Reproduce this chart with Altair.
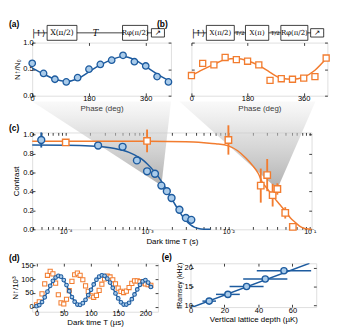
import altair as alt
import pandas as pd

FONT = "Liberation Sans"
SERIF = "DejaVu Serif"
BLUE = "#1d5b9f"
BLUE_FILL = "#a9cbea"
ORANGE = "#f27c2f"
TK = 3

# ---------------- data ----------------
# (a) and (b): phase scans
phase = [0, 36, 72, 108, 144, 180, 216, 252, 288, 324, 360, 396, 432]
a_ratio = [0.61, 0.42, 0.31, 0.26, 0.34, 0.50, 0.59, 0.67, 0.76, 0.64, 0.56, 0.36, 0.26]
a_fit_phase = [0, 36, 72, 108, 144, 180, 216, 252, 288, 324, 360, 396, 432, 440]
a_fit = [0.52, 0.41, 0.31, 0.27, 0.32, 0.45, 0.58, 0.68, 0.74, 0.68, 0.55, 0.41, 0.29, 0.27]
b_ratio = [0.38, 0.61, 0.58, 0.72, 0.68, 0.65, 0.58, 0.29, 0.32, 0.31, 0.33, 0.36, 0.71]
b_fit = [0.38, 0.49, 0.59, 0.68, 0.70, 0.66, 0.57, 0.44, 0.33, 0.31, 0.35, 0.48, 0.70]

# (c): contrast vs dark time
blue_T = [5e-5, 2.5e-4, 5e-4, 7.5e-4, 1e-3, 1.25e-3, 1.5e-3, 1.75e-3, 2e-3, 2.5e-3, 3e-3, 3.5e-3]
blue_C = [0.944, 0.885, 0.872, 0.728, 0.613, 0.587, 0.462, 0.403, 0.331, 0.207, 0.121, 0.10]
blue_err = [0.08, 0.025, 0.03, 0.02, 0.02, 0.02, 0.02, 0.02, 0.02, 0.02, 0.02, 0.02]
blue_fit_T = [3.87e-5, 1e-4, 2e-4, 3e-4, 4e-4, 5e-4, 6e-4, 7e-4, 8e-4, 9e-4, 1e-3, 1.2e-3,
              1.4e-3, 1.6e-3, 1.8e-3, 2e-3, 2.2e-3, 2.4e-3, 2.7e-3, 3e-3, 3.4e-3, 3.8e-3,
              4.3e-3, 5e-3, 6e-3]
blue_fit_C = [0.89, 0.888, 0.881, 0.87, 0.855, 0.836, 0.813, 0.787, 0.759, 0.728, 0.693, 0.62,
              0.546, 0.469, 0.396, 0.327, 0.265, 0.211, 0.144, 0.094, 0.05, 0.024,
              0.009, 0.002, 0.0]
orange_T = [1e-4, 1e-3, 1e-2, 2.5e-2, 3e-2, 3.5e-2, 4e-2, 5e-2, 6.2e-2]
orange_C = [0.918, 0.934, 0.944, 0.462, 0.573, 0.361, 0.426, 0.174, 0.026]
orange_err = [0.03, 0.12, 0.155, 0.18, 0.17, 0.12, 0.06, 0.06, 0.03]
orange_fit_T = [3.87e-5, 1e-3, 3e-3, 5e-3, 7e-3, 1e-2, 1.3e-2, 1.65e-2, 2e-2, 2.33e-2, 2.6e-2,
                3e-2, 3.6e-2, 4.2e-2, 5.1e-2, 5.8e-2, 6.6e-2, 7.5e-2, 8.5e-2, 0.1, 0.1054]
orange_fit_C = [0.93, 0.93, 0.925, 0.915, 0.905, 0.882, 0.83, 0.75, 0.67, 0.59, 0.50,
                0.43, 0.34, 0.27, 0.185, 0.12, 0.075, 0.035, 0.012, 0.002, 0.0]

# zoom wedges linking (c) to (a)/(b): panel edges expressed on the (c) axis
wedge_top = 1.35
wedge_a_x = [3.87e-5, 1.97e-3]
wedge_b_x = [2.5e-3, 0.1175]

# (d): atom number vs dark time
d_t = [0, 5, 10, 15, 20, 25, 30, 35, 40, 45, 50, 55, 60, 65, 70, 75, 80, 85, 90, 95, 100,
       105, 110, 115, 120, 125, 130, 135, 140, 145, 150, 155, 160, 165, 170, 175, 180, 185,
       190, 195, 200, 205, 210]
d_blue = [3, 7, 18, 35, 55, 76, 94, 106, 112, 109, 97, 79, 57, 36, 19, 9, 8, 14, 26, 43,
          62, 81, 98, 109, 114, 112, 102, 88, 69, 49, 31, 17, 9, 9, 15, 28, 45, 63, 80, 92,
          97, 88, 72]
d_orange = [8, 19, 47, 83, 114, 128, 119, 86, 44, 15, 11, 28, 59, 92, 116, 122, 114, 98,
            76, 56, 40, 35, 42, 60, 82, 101, 111, 108, 98, 83, 68, 56, 52, 57, 70, 85, 94,
            94, 91, 87, 83, 80, 78]

# (e): Ramsey frequency vs lattice depth
e_depth = [11, 22, 33, 44, 55]
e_freq = [11.1, 12.9, 15.0, 17.0, 19.2]
e_xerr = [4.0, 7.0, 10.0, 13.0, 16.0]
e_fit_depth = [0, 70]
e_fit_freq = [9.3, 21.2]

# ---------------- helpers ----------------
ONE = alt.Data(values=[{}])


def ax(values, title=None, labels=True, orient=None, fmt=None, label_expr=None, tick=TK,
       title_pad=2, label_size=8, label_pad=2, title_size=8.5):
    kw = dict(values=values, domain=False, grid=False, ticks=True,
              tickSize=alt.ExprRef(expr=str(-tick)), tickColor="black", tickWidth=0.8,
              labels=labels, labelFont=FONT, labelFontSize=label_size, labelColor="black",
              labelPadding=label_pad, labelFlush=False, labelOverlap=False,
              titleFont=FONT, titleFontSize=title_size, titleColor="black",
              titleFontWeight="normal", titlePadding=title_pad, minExtent=0)
    kw["title"] = title if title else None
    if orient:
        kw["orient"] = orient
        kw["maxExtent"] = 0
    if fmt:
        kw["format"] = fmt
    if label_expr:
        kw["labelExpr"] = label_expr
    return alt.Axis(**kw)


def txt(s, x, y, size=8, font=FONT, color="black", **kw):
    return alt.Chart(ONE).mark_text(text=s, fontSize=size, font=font, color=color, **kw).encode(
        x=alt.value(x), y=alt.value(y))


def box(x0, x1, y0, y1):
    return alt.Chart(ONE).mark_rect(fill="white", stroke="black", strokeWidth=0.8).encode(
        x=alt.value(x0), x2=alt.value(x1), y=alt.value(y0), y2=alt.value(y1))


def wire(x0, x1, y):
    return alt.Chart(ONE).mark_rule(stroke="black", strokeWidth=0.8).encode(
        x=alt.value(x0), x2=alt.value(x1), y=alt.value(y))


def circles(df, xf, yf, xs, ys, size, sw, xaxis=None, yaxis=None):
    return alt.Chart(df).mark_point(shape="circle", filled=True, fill=BLUE_FILL, stroke=BLUE,
                                    strokeWidth=sw, size=size, opacity=1, fillOpacity=1).encode(
        x=alt.X(xf, scale=xs, axis=xaxis), y=alt.Y(yf, scale=ys, axis=yaxis))


def squares(df, xf, yf, xs, ys, size, sw, xaxis=None, yaxis=None):
    return alt.Chart(df).mark_point(shape="square", filled=True, fill="white", stroke=ORANGE,
                                    strokeWidth=sw, size=size, opacity=1, fillOpacity=1).encode(
        x=alt.X(xf, scale=xs, axis=xaxis), y=alt.Y(yf, scale=ys, axis=yaxis))


def mirror(df, xf, yf, xs, ys, xvals, yvals):
    return alt.Chart(df).mark_point(opacity=0).encode(
        x=alt.X(xf, scale=xs, axis=ax(xvals, labels=False, orient="top")),
        y=alt.Y(yf, scale=ys, axis=ax(yvals, labels=False, orient="right")))


def meter(x0, y0):
    return [box(x0, x0 + 14, y0 - 4.5, y0 + 4.5),
            txt("↗", x0 + 7, y0, size=8, font="DejaVu Sans")]


CY = -10.5  # circuit wire height above plot
LBL_X = -25

# ---------------- panel (a) ----------------
df_a = pd.DataFrame({"phase": phase, "v": a_ratio})
df_afit = pd.DataFrame({"phase": a_fit_phase, "v": a_fit})
xa = alt.Scale(domain=[0, 440], nice=False)
ya = alt.Scale(domain=[0, 1], nice=False)
pa = alt.layer(
    alt.Chart(df_afit).mark_line(color=BLUE, strokeWidth=1.6, interpolate="monotone").encode(
        x=alt.X("phase:Q", scale=xa, axis=None), y=alt.Y("v:Q", scale=ya, axis=None)),
    circles(df_a, "phase:Q", "v:Q", xa, ya, 48, 1.4,
            ax([0, 180, 360], "Phase (deg)"), ax([0, 0.5, 1], "N↑/N₀", fmt=".1f")),
    mirror(df_a, "phase:Q", "v:Q", xa, ya, [0, 180, 360], [0, 0.5, 1]),
    wire(2, 142, CY),
    txt("|↑⟩", 7, CY, size=9, font=SERIF),
    box(16, 48, CY - 8, CY + 8), txt("X(π/2)", 32, CY, size=8, font=SERIF),
    txt("T", 68, CY, size=9, font=SERIF, fontStyle="italic"),
    box(97, 124, CY - 8, CY + 8), txt("Rφ(π/2)", 110.5, CY, size=7.5, font=SERIF),
    *meter(128, CY),
    txt("(a)", LBL_X, -20, size=9, fontWeight="bold", align="left"),
    txt("(b)", 134, -20, size=9, fontWeight="bold", align="left"),
).resolve_axis(x="independent", y="independent").properties(width=149, height=57)

# ---------------- panel (b) ----------------
df_b = pd.DataFrame({"phase": phase, "v": b_ratio})
df_bfit = pd.DataFrame({"phase": phase, "v": b_fit})
xb = alt.Scale(domain=[0, 436], nice=False)
pb = alt.layer(
    alt.Chart(df_bfit).mark_line(color=ORANGE, strokeWidth=1.6, interpolate="monotone").encode(
        x=alt.X("phase:Q", scale=xb, axis=None), y=alt.Y("v:Q", scale=ya, axis=None)),
    squares(df_b, "phase:Q", "v:Q", xb, ya, 42, 1.4,
            ax([0, 180, 360], "Phase (deg)"), ax([0, 0.5, 1], labels=False)),
    mirror(df_b, "phase:Q", "v:Q", xb, ya, [0, 180, 360], [0, 0.5, 1]),
    wire(2, 142, CY),
    txt("|↑⟩", 7.5, CY, size=9, font=SERIF),
    box(16, 46, CY - 8, CY + 8), txt("X(π/2)", 31, CY, size=7.5, font=SERIF),
    txt("T/2", 52, CY, size=6, font=SERIF),
    box(58, 83, CY - 8, CY + 8), txt("X(π)", 70.5, CY, size=7.5, font=SERIF),
    txt("T/2", 90, CY, size=6, font=SERIF),
    box(96, 125, CY - 8, CY + 8), txt("Rφ(π/2)", 110.5, CY, size=7.5, font=SERIF),
    *meter(128, CY),
    txt("(b)", 20, -20, size=9, fontWeight="bold", align="left", opacity=0),
).resolve_axis(x="independent", y="independent").properties(width=146, height=57)

# ---------------- panel (c) ----------------
df_cb = pd.DataFrame({"T": blue_T, "C": blue_C, "lo": [c - e for c, e in zip(blue_C, blue_err)],
                      "hi": [c + e for c, e in zip(blue_C, blue_err)]})
df_co = pd.DataFrame({"T": orange_T, "C": orange_C,
                      "lo": [c - e for c, e in zip(orange_C, orange_err)],
                      "hi": [c + e for c, e in zip(orange_C, orange_err)]})
df_cbf = pd.DataFrame({"T": blue_fit_T, "C": blue_fit_C})
df_cof = pd.DataFrame({"T": orange_fit_T, "C": orange_fit_C})
df_wa = pd.DataFrame({"T": [wedge_a_x[0], blue_T[6], wedge_a_x[1]],
                      "C": [wedge_top, blue_C[6], wedge_top], "C2": [wedge_top] * 3})
df_wb = pd.DataFrame({"T": [wedge_b_x[0], orange_T[6], wedge_b_x[1]],
                      "C": [wedge_top, orange_C[6], wedge_top], "C2": [wedge_top] * 3})
xc = alt.Scale(type="log", domain=[3.87e-5, 0.1054], nice=False)
yc = alt.Scale(domain=[0, 1.023], nice=False)
majors = [1e-4, 1e-3, 1e-2, 1e-1]
minors = [k * 10.0 ** e for e in (-5, -4, -3, -2) for k in range(2, 10)
          if 3.87e-5 <= k * 10.0 ** e <= 0.1054]
lab = ("datum.value > 0.098 && datum.value < 0.102 ? '10⁻¹' : datum.value > 0.0098 && datum.value < 0.0102 ? '10⁻²'"
       " : datum.value > 0.00098 && datum.value < 0.00102 ? '10⁻³' : datum.value > 0.000098 && datum.value < 0.000102 ? '10⁻⁴' : ''")
grad = alt.Gradient(gradient="linear", x1=0, x2=0, y1=0, y2=1, stops=[
    alt.GradientStop(color="rgba(215,215,215,0.15)", offset=0),
    alt.GradientStop(color="rgba(200,200,200,0.6)", offset=0.4),
    alt.GradientStop(color="rgba(170,170,170,0.95)", offset=1)])


def wedge(df):
    return alt.Chart(df).mark_area(color=grad, clip=False).encode(
        x=alt.X("T:Q", scale=xc, axis=None), y=alt.Y("C:Q", scale=yc, axis=None), y2="C2:Q")


yvals_c = [0, 0.2, 0.4, 0.6, 0.8, 1.0]
pc = alt.layer(
    wedge(df_wa), wedge(df_wb),
    alt.Chart(df_cof).mark_line(color=ORANGE, strokeWidth=1.6, interpolate="monotone").encode(
        x=alt.X("T:Q", scale=xc, axis=None), y=alt.Y("C:Q", scale=yc, axis=None)),
    alt.Chart(df_cbf).mark_line(color=BLUE, strokeWidth=1.6, interpolate="monotone").encode(
        x=alt.X("T:Q", scale=xc, axis=None), y=alt.Y("C:Q", scale=yc, axis=None)),
    alt.Chart(df_cb).mark_rule(color=BLUE, strokeWidth=2).encode(
        x=alt.X("T:Q", scale=xc, axis=None), y=alt.Y("lo:Q", scale=yc, axis=None), y2="hi:Q"),
    circles(df_cb, "T:Q", "C:Q", xc, yc, 55, 1.5,
            ax(majors + minors, "Dark time T (s)", label_expr=lab, label_size=7.5),
            ax(yvals_c, "Contrast", fmt=".1f", title_pad=3)),
    alt.Chart(df_co).mark_rule(color=ORANGE, strokeWidth=2).encode(
        x=alt.X("T:Q", scale=xc, axis=None), y=alt.Y("lo:Q", scale=yc, axis=None), y2="hi:Q"),
    squares(df_co, "T:Q", "C:Q", xc, yc, 48, 1.5),
    mirror(df_cb, "T:Q", "C:Q", xc, yc, majors + minors, yvals_c),
    txt("(c)", LBL_X, -5, size=9, fontWeight="bold", align="left"),
).resolve_axis(x="independent", y="independent").properties(width=300, height=104)

# ---------------- panel (d) ----------------
df_d = pd.DataFrame({"t": d_t, "blue": d_blue, "orange": d_orange})
xd = alt.Scale(domain=[-8, 223], nice=False)
yd = alt.Scale(domain=[-17, 157], nice=False)
pd_ = alt.layer(
    squares(df_d, "t:Q", "orange:Q", xd, yd, 20, 1.1),
    alt.Chart(df_d).mark_line(color=BLUE, strokeWidth=1.5, interpolate="basis").encode(
        x=alt.X("t:Q", scale=xd, axis=None), y=alt.Y("blue:Q", scale=yd, axis=None)),
    circles(df_d, "t:Q", "blue:Q", xd, yd, 16, 1.1,
            ax([0, 50, 100, 150, 200], "Dark time T (µs)", title_pad=1, label_pad=1),
            ax([0, 50, 100, 150], "N↑/10³", title_pad=1)),
    mirror(df_d, "t:Q", "blue:Q", xd, yd, [0, 50, 100, 150, 200], [0, 50, 100, 150]),
    txt("(d)", LBL_X, -6, size=9, fontWeight="bold", align="left"),
).resolve_axis(x="independent", y="independent").properties(width=135, height=52)

# ---------------- panel (e) ----------------
df_e = pd.DataFrame({"depth": e_depth, "f": e_freq,
                     "lo": [d - e for d, e in zip(e_depth, e_xerr)],
                     "hi": [d + e for d, e in zip(e_depth, e_xerr)]})
df_ef = pd.DataFrame({"depth": e_fit_depth, "f": e_fit_freq})
xe = alt.Scale(domain=[0, 74], nice=False)
ye = alt.Scale(domain=[9.5, 21.2], nice=False)
pe = alt.layer(
    alt.Chart(df_ef).mark_line(color=BLUE, strokeWidth=1.6, clip=True).encode(
        x=alt.X("depth:Q", scale=xe, axis=None), y=alt.Y("f:Q", scale=ye, axis=None)),
    alt.Chart(df_e).mark_rule(color=BLUE, strokeWidth=1.6).encode(
        x=alt.X("lo:Q", scale=xe, axis=None), x2="hi:Q", y=alt.Y("f:Q", scale=ye, axis=None)),
    circles(df_e, "depth:Q", "f:Q", xe, ye, 45, 1.4,
            ax([0, 20, 40, 60], "Vertical lattice depth (µK)", title_pad=1, label_pad=2.5),
            ax([10, 15, 20], "fRamsey (kHz)", title_pad=1, label_pad=1, title_size=7.5)),
    mirror(df_e, "depth:Q", "f:Q", xe, ye, [0, 20, 40, 60], [10, 15, 20]),
    txt("(e)", -31, -7, size=9, fontWeight="bold", align="left"),
).resolve_axis(x="independent", y="independent").properties(width=135, height=47)

row1 = alt.hconcat(pa, pb, spacing=10)
row3 = alt.hconcat(pd_, pe, spacing=2)
upper = alt.vconcat(row1, pc, spacing=-12.5)
chart = alt.vconcat(upper, row3, spacing=7).properties(padding=0).configure_view(
    stroke="black", strokeWidth=0.8).configure(font=FONT)

chart.save("out.html", embed_options={"renderer": "svg", "actions": False})
